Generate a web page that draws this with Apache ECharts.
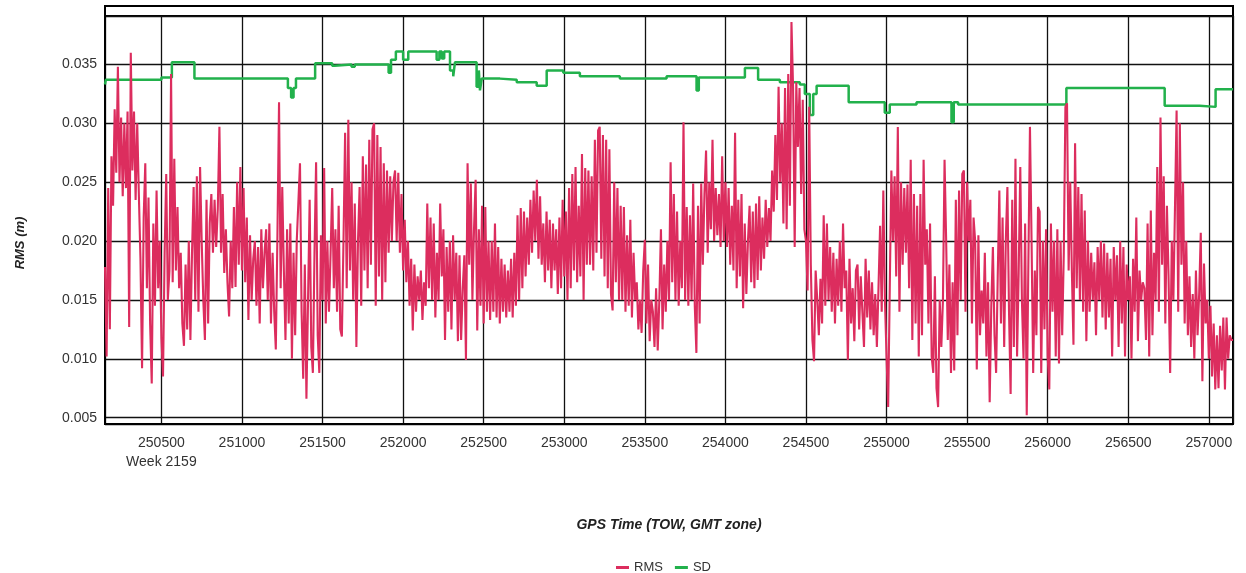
<!DOCTYPE html>
<html>
<head>
<meta charset="utf-8">
<script src="https://cdn.jsdelivr.net/npm/echarts@6/dist/echarts.min.js"></script>
<style>
  html, body { margin: 0; padding: 0; background: #fff; }
  #chart { width: 1246px; height: 573px; }
</style>
</head>
<body>
<div id="chart"></div>
<script>
// GPS time of week (s), RMS sampled every 10 s from tStart
var tStart = 250150;
var tStep = 10;
var rmsValues = [
  0.0178, 0.0102, 0.0245, 0.0125, 0.0272, 0.0230, 0.0312, 0.0258, 0.0348, 0.0250, 0.0305, 0.0238, 0.0300, 0.0245, 0.0310, 0.0127, 0.0360, 0.0260, 0.0310, 0.0235,
  0.0300, 0.0240, 0.0185, 0.0092, 0.0220, 0.0266, 0.0160, 0.0237, 0.0130, 0.0079, 0.0215, 0.0145, 0.0243, 0.0160, 0.0200, 0.0118, 0.0085, 0.0190, 0.0257, 0.0150,
  0.0175, 0.0342, 0.0165, 0.0270, 0.0175, 0.0229, 0.0160, 0.0190, 0.0130, 0.0111, 0.0180, 0.0125, 0.0200, 0.0116, 0.0190, 0.0246, 0.0150, 0.0255, 0.0140, 0.0263,
  0.0200, 0.0150, 0.0116, 0.0235, 0.0130, 0.0215, 0.0240, 0.0190, 0.0235, 0.0195, 0.0228, 0.0297, 0.0190, 0.0240, 0.0173, 0.0210, 0.0165, 0.0136, 0.0200, 0.0160,
  0.0229, 0.0161, 0.0250, 0.0180, 0.0263, 0.0175, 0.0245, 0.0165, 0.0220, 0.0133, 0.0205, 0.0150, 0.0185, 0.0200, 0.0145, 0.0195, 0.0130, 0.0210, 0.0160, 0.0190,
  0.0210, 0.0150, 0.0215, 0.0130, 0.0190, 0.0140, 0.0108, 0.0205, 0.0318, 0.0160, 0.0246, 0.0175, 0.0116, 0.0210, 0.0130, 0.0215, 0.0100, 0.0190, 0.0120, 0.0200,
  0.0200, 0.0266, 0.0140, 0.0083, 0.0180, 0.0066, 0.0150, 0.0235, 0.0110, 0.0088, 0.0190, 0.0267, 0.0120, 0.0088, 0.0205, 0.0150, 0.0262, 0.0130, 0.0200, 0.0140,
  0.0190, 0.0245, 0.0160, 0.0210, 0.0140, 0.0230, 0.0125, 0.0119, 0.0200, 0.0292, 0.0160, 0.0303, 0.0175, 0.0250, 0.0150, 0.0232, 0.0110, 0.0200, 0.0246, 0.0145,
  0.0272, 0.0175, 0.0265, 0.0160, 0.0286, 0.0180, 0.0295, 0.0300, 0.0145, 0.0290, 0.0170, 0.0280, 0.0150, 0.0266, 0.0165, 0.0260, 0.0190, 0.0255, 0.0200, 0.0250,
  0.0260, 0.0200, 0.0258, 0.0190, 0.0240, 0.0175, 0.0218, 0.0165, 0.0200, 0.0145, 0.0185, 0.0124, 0.0180, 0.0140, 0.0170, 0.0150, 0.0175, 0.0133, 0.0165, 0.0145,
  0.0232, 0.0160, 0.0220, 0.0150, 0.0215, 0.0135, 0.0190, 0.0150, 0.0232, 0.0170, 0.0210, 0.0116, 0.0195, 0.0140, 0.0200, 0.0125, 0.0205, 0.0150, 0.0190, 0.0115,
  0.0188, 0.0116, 0.0160, 0.0188, 0.0099, 0.0266, 0.0180, 0.0249, 0.0150, 0.0210, 0.0252, 0.0124, 0.0210, 0.0145, 0.0230, 0.0130, 0.0229, 0.0140, 0.0200, 0.0133,
  0.0200, 0.0140, 0.0215, 0.0135, 0.0195, 0.0130, 0.0185, 0.0140, 0.0180, 0.0135, 0.0175, 0.0140, 0.0185, 0.0135, 0.0190, 0.0145, 0.0222, 0.0150, 0.0228, 0.0160,
  0.0225, 0.0170, 0.0220, 0.0180, 0.0235, 0.0190, 0.0243, 0.0200, 0.0252, 0.0185, 0.0238, 0.0180, 0.0215, 0.0165, 0.0225, 0.0175, 0.0218, 0.0160, 0.0215, 0.0175,
  0.0210, 0.0155, 0.0220, 0.0160, 0.0235, 0.0170, 0.0225, 0.0150, 0.0245, 0.0160, 0.0257, 0.0175, 0.0263, 0.0165, 0.0230, 0.0170, 0.0274, 0.0150, 0.0262, 0.0180,
  0.0260, 0.0180, 0.0255, 0.0175, 0.0286, 0.0190, 0.0294, 0.0297, 0.0185, 0.0290, 0.0170, 0.0286, 0.0160, 0.0278, 0.0155, 0.0141, 0.0250, 0.0165, 0.0245, 0.0150,
  0.0230, 0.0150, 0.0229, 0.0140, 0.0205, 0.0145, 0.0218, 0.0135, 0.0190, 0.0150, 0.0165, 0.0125, 0.0150, 0.0122, 0.0175, 0.0201, 0.0130, 0.0180, 0.0115, 0.0150,
  0.0140, 0.0110, 0.0160, 0.0107, 0.0150, 0.0210, 0.0125, 0.0180, 0.0140, 0.0200, 0.0150, 0.0267, 0.0165, 0.0240, 0.0150, 0.0225, 0.0145, 0.0200, 0.0160, 0.0301,
  0.0150, 0.0229, 0.0145, 0.0222, 0.0150, 0.0249, 0.0145, 0.0105, 0.0230, 0.0130, 0.0249, 0.0180, 0.0240, 0.0277, 0.0190, 0.0250, 0.0210, 0.0286, 0.0200, 0.0245,
  0.0205, 0.0240, 0.0195, 0.0272, 0.0200, 0.0250, 0.0195, 0.0245, 0.0180, 0.0230, 0.0175, 0.0292, 0.0160, 0.0235, 0.0170, 0.0240, 0.0143, 0.0215, 0.0155, 0.0200,
  0.0230, 0.0165, 0.0225, 0.0160, 0.0232, 0.0167, 0.0238, 0.0175, 0.0220, 0.0185, 0.0235, 0.0195, 0.0228, 0.0200, 0.0260, 0.0225, 0.0290, 0.0235, 0.0331, 0.0250,
  0.0300, 0.0215, 0.0330, 0.0210, 0.0342, 0.0230, 0.0386, 0.0330, 0.0195, 0.0335, 0.0280, 0.0330, 0.0240, 0.0320, 0.0210, 0.0200, 0.0158, 0.0314, 0.0180, 0.0116,
  0.0098, 0.0175, 0.0150, 0.0120, 0.0168, 0.0130, 0.0222, 0.0145, 0.0215, 0.0150, 0.0195, 0.0140, 0.0190, 0.0130, 0.0185, 0.0145, 0.0200, 0.0140, 0.0215, 0.0160,
  0.0175, 0.0099, 0.0185, 0.0130, 0.0160, 0.0115, 0.0175, 0.0180, 0.0125, 0.0170, 0.0140, 0.0110, 0.0185, 0.0135, 0.0175, 0.0125, 0.0165, 0.0120, 0.0155, 0.0110,
  0.0160, 0.0213, 0.0140, 0.0243, 0.0150, 0.0102, 0.0059, 0.0160, 0.0260, 0.0200, 0.0255, 0.0170, 0.0297, 0.0140, 0.0250, 0.0180, 0.0245, 0.0190, 0.0248, 0.0160,
  0.0269, 0.0116, 0.0240, 0.0130, 0.0230, 0.0102, 0.0240, 0.0120, 0.0269, 0.0180, 0.0210, 0.0130, 0.0215, 0.0102, 0.0088, 0.0170, 0.0075, 0.0059, 0.0150, 0.0110,
  0.0150, 0.0269, 0.0200, 0.0116, 0.0180, 0.0088, 0.0165, 0.0090, 0.0235, 0.0120, 0.0243, 0.0150, 0.0257, 0.0260, 0.0140, 0.0250, 0.0200, 0.0235, 0.0130, 0.0220,
  0.0200, 0.0091, 0.0205, 0.0120, 0.0158, 0.0130, 0.0190, 0.0102, 0.0165, 0.0063, 0.0145, 0.0195, 0.0120, 0.0088, 0.0170, 0.0243, 0.0130, 0.0220, 0.0110, 0.0200,
  0.0246, 0.0140, 0.0070, 0.0235, 0.0110, 0.0270, 0.0102, 0.0173, 0.0263, 0.0150, 0.0100, 0.0215, 0.0052, 0.0180, 0.0297, 0.0200, 0.0088, 0.0175, 0.0120, 0.0229,
  0.0225, 0.0088, 0.0200, 0.0125, 0.0210, 0.0102, 0.0074, 0.0215, 0.0140, 0.0200, 0.0102, 0.0210, 0.0096, 0.0200, 0.0120, 0.0190, 0.0314, 0.0317, 0.0175, 0.0250,
  0.0175, 0.0112, 0.0283, 0.0160, 0.0246, 0.0150, 0.0240, 0.0140, 0.0226, 0.0115, 0.0200, 0.0140, 0.0190, 0.0150, 0.0182, 0.0120, 0.0195, 0.0150, 0.0200, 0.0135,
  0.0198, 0.0125, 0.0190, 0.0135, 0.0185, 0.0102, 0.0195, 0.0150, 0.0188, 0.0110, 0.0200, 0.0130, 0.0195, 0.0102, 0.0180, 0.0150, 0.0170, 0.0100, 0.0185, 0.0140,
  0.0220, 0.0115, 0.0175, 0.0150, 0.0165, 0.0160, 0.0116, 0.0215, 0.0102, 0.0226, 0.0120, 0.0190, 0.0150, 0.0263, 0.0140, 0.0305, 0.0180, 0.0255, 0.0130, 0.0230,
  0.0170, 0.0088, 0.0200, 0.0150, 0.0229, 0.0311, 0.0140, 0.0300, 0.0180, 0.0250, 0.0130, 0.0200, 0.0120, 0.0170, 0.0110, 0.0155, 0.0100, 0.0175, 0.0120, 0.0155,
  0.0207, 0.0081, 0.0181, 0.0130, 0.0150, 0.0100, 0.0145, 0.0085, 0.0130, 0.0074, 0.0120, 0.0075, 0.0128, 0.0090, 0.0135, 0.0074, 0.0135, 0.0100, 0.0120, 0.0116,
  0.0116
];

// SD is a step line: each value holds until the next time
var sdTimes = [250150, 250155, 250500, 250565, 250705, 251285, 251305, 251320, 251335, 251454,
  251560, 251575, 251680, 251700, 251910, 251925, 251955, 252000, 252032, 252208,
  252225, 252240, 252255, 252291, 252311, 252322, 252456, 252470, 252477, 252488,
  252601, 252705, 252829, 252891, 252994, 253097, 253345, 253635, 253821, 253835,
  254121, 254203, 254338, 254462, 254493, 254524, 254545, 254566, 254765, 254989,
  255020, 255186, 255403, 255417, 255444, 256116, 256726, 256943, 257042, 257150];
var sdValues = [0.0333, 0.0337, 0.0339, 0.0352, 0.0338, 0.0330, 0.0322, 0.0330, 0.0338, 0.0351,
  0.0349, 0.0350, 0.0348, 0.0350, 0.0343, 0.0354, 0.0361, 0.0354, 0.0361, 0.0354,
  0.0361, 0.0355, 0.0361, 0.0345, 0.0340, 0.0352, 0.0331, 0.0345, 0.0328, 0.0338,
  0.0337, 0.0335, 0.0332, 0.0345, 0.0343, 0.0340, 0.0338, 0.0340, 0.0328, 0.0339,
  0.0347, 0.0337, 0.0335, 0.0333, 0.0325, 0.0307, 0.0325, 0.0332, 0.0318, 0.0309,
  0.0316, 0.0318, 0.0301, 0.0318, 0.0316, 0.0330, 0.0315, 0.0314, 0.0329, 0.0329];

var xMin = 250150, xMax = 257150;
var yMin = 0.00446, yMax = 0.03912;
var weekLabel = 'Week 2159';

var rmsData = rmsValues.map(function (v, i) { return [tStart + i * tStep, v]; });
var sdData = sdTimes.map(function (t, i) { return [t, sdValues[i]]; });

var font = '"Liberation Sans", Arial, sans-serif';
var chart = echarts.init(document.getElementById('chart'));

chart.setOption({
  animation: false,
  backgroundColor: '#fff',
  grid: {
    left: 105, right: 13, top: 16, bottom: 149,
    show: true, borderColor: '#000', borderWidth: 2
  },
  legend: {
    left: 611, top: 556,
    itemWidth: 13, itemHeight: 3, itemGap: 12,
    icon: 'rect',
    textStyle: { fontFamily: font, fontSize: 13, color: '#333' },
    data: ['RMS', 'SD']
  },
  graphic: [
    {
      type: 'rect',
      shape: { x: 105, y: 6, width: 1128, height: 418 },
      style: { fill: 'none', stroke: '#000', lineWidth: 2 },
      silent: true
    },
    {
      type: 'text',
      x: 20, y: 243,
      rotation: Math.PI / 2,
      style: {
        text: 'RMS (m)',
        font: 'italic bold 13px ' + font,
        fill: '#222',
        textAlign: 'center',
        textVerticalAlign: 'middle'
      }
    }
  ],
  xAxis: {
    type: 'value',
    min: xMin, max: xMax,
    splitNumber: 14,
    minInterval: 500, maxInterval: 500,
    name: 'GPS Time (TOW, GMT zone)',
    nameLocation: 'middle',
    nameGap: 94,
    nameTextStyle: { fontFamily: font, fontSize: 14, fontWeight: 'bold', fontStyle: 'italic', color: '#222' },
    axisLine: { show: true, lineStyle: { color: '#000', width: 2 } },
    axisTick: { show: false },
    axisLabel: {
      margin: 10,
      fontFamily: font, fontSize: 14, color: '#333', lineHeight: 19,
      showMinLabel: true, showMaxLabel: true,
      formatter: function (v) {
        if (v % 500 !== 0) return '';
        return v === 250500 ? v + '\n' + weekLabel : String(v);
      }
    },
    splitLine: { show: true, lineStyle: { color: '#111', width: 1.3 } }
  },
  yAxis: {
    type: 'value',
    min: yMin, max: yMax,
    splitNumber: 7,
    minInterval: 0.005, maxInterval: 0.005,
    axisLine: { show: true, lineStyle: { color: '#000', width: 2 } },
    axisTick: { show: false },
    axisLabel: {
      margin: 8,
      fontFamily: font, fontSize: 14, color: '#333',
      formatter: function (v) {
        var k = Math.round(v * 1000);
        if (Math.abs(v * 1000 - k) > 1e-6 || k % 5 !== 0) return '';
        return v.toFixed(3);
      }
    },
    splitLine: { show: true, lineStyle: { color: '#111', width: 1.3 } }
  },
  series: [
    {
      name: 'RMS',
      type: 'line',
      data: rmsData,
      showSymbol: false,
      sampling: null,
      z: 3,
      color: '#dc2d5e',
      lineStyle: { color: '#dc2d5e', width: 2.1 }
    },
    {
      name: 'SD',
      type: 'line',
      data: sdData,
      step: 'end',
      showSymbol: false,
      z: 2,
      color: '#22b14c',
      lineStyle: { color: '#22b14c', width: 2.5 }
    }
  ]
});
</script>
</body>
</html>
